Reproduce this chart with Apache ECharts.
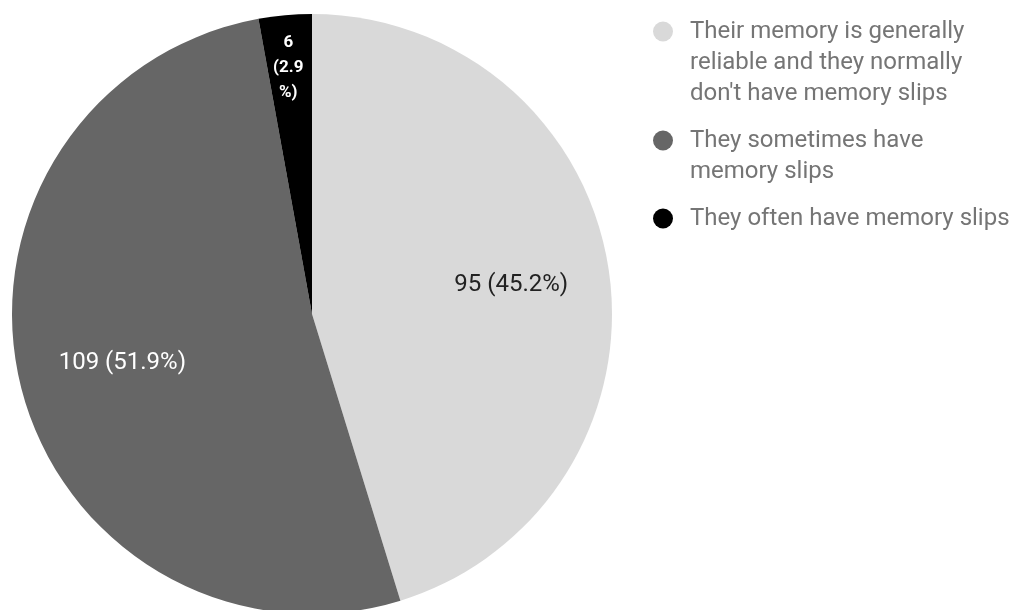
<!DOCTYPE html>
<html>
<head>
<meta charset="utf-8">
<script src="https://cdn.jsdelivr.net/npm/echarts@6/dist/echarts.min.js"></script>
<style>
  html, body { margin: 0; padding: 0; background: #ffffff; }
  #chart { width: 1021px; height: 610px; }
</style>
</head>
<body>
<div id="chart"></div>
<script>
// Survey answers: how people describe their memory
const categories = [
  "Their memory is generally reliable and they normally don't have memory slips",
  "They sometimes have memory slips",
  "They often have memory slips"
];
const counts = [95, 109, 6];
// Legend wording, broken over lines
const legendLines = [
  ["Their memory is generally", "reliable and they normally", "don't have memory slips"],
  ["They sometimes have", "memory slips"],
  ["They often have memory slips"]
];
const sliceColors = ['#d9d9d9', '#666666', '#000000'];

const total = counts.reduce((a, b) => a + b, 0);
const pct = v => (v / total * 100).toFixed(1);

// per-label nudges from the default inside position
const labelShift = [[48, -6], [-41, 13], [-10, -94]];

// Legend text is centred on its icon, so blank lines above (and one below
// the single-line entry) keep each icon level with the first line of text.
function legendText(lines) {
  const n = lines.length;
  const above = Math.max(n - 1, 1);
  const below = n === 1 ? 1 : 0;
  return Array(above).fill('').concat(lines, Array(below).fill('')).join('\n');
}

const chart = echarts.init(document.getElementById('chart'), null, { renderer: 'canvas' });

chart.setOption({
  backgroundColor: '#ffffff',
  animation: false,
  color: sliceColors,
  legend: {
    orient: 'vertical',
    left: 653,
    top: -46,
    padding: 0,
    itemGap: -15,
    itemWidth: 20,
    itemHeight: 20,
    icon: 'circle',
    selectedMode: false,
    data: categories,
    formatter: name => legendText(legendLines[categories.indexOf(name)]),
    textStyle: {
      fontFamily: 'Roboto',
      fontSize: 24,
      lineHeight: 31,
      color: '#757575',
      padding: [0, 0, 0, 12]
    }
  },
  series: [{
    type: 'pie',
    radius: 300,
    center: [312, 314],
    startAngle: 90,
    clockwise: true,
    silent: true,
    data: categories.map((name, i) => ({
      name: name,
      value: counts[i],
      label: i === 2
        ? { color: '#ffffff', fontSize: 17, fontWeight: 'bold', lineHeight: 25 }
        : { color: i === 0 ? '#222222' : '#ffffff' }
    })),
    label: {
      show: true,
      position: 'inside',
      fontFamily: 'Roboto',
      fontSize: 24,
      formatter: p => p.dataIndex === 2
        ? p.value + '\n(' + pct(p.value) + '\n%)'
        : p.value + ' (' + pct(p.value) + '%)'
    },
    labelLine: { show: false },
    labelLayout: p => ({ dx: labelShift[p.dataIndex][0], dy: labelShift[p.dataIndex][1] }),
    itemStyle: { borderWidth: 0 },
    emphasis: { disabled: true }
  }]
});
</script>
</body>
</html>
